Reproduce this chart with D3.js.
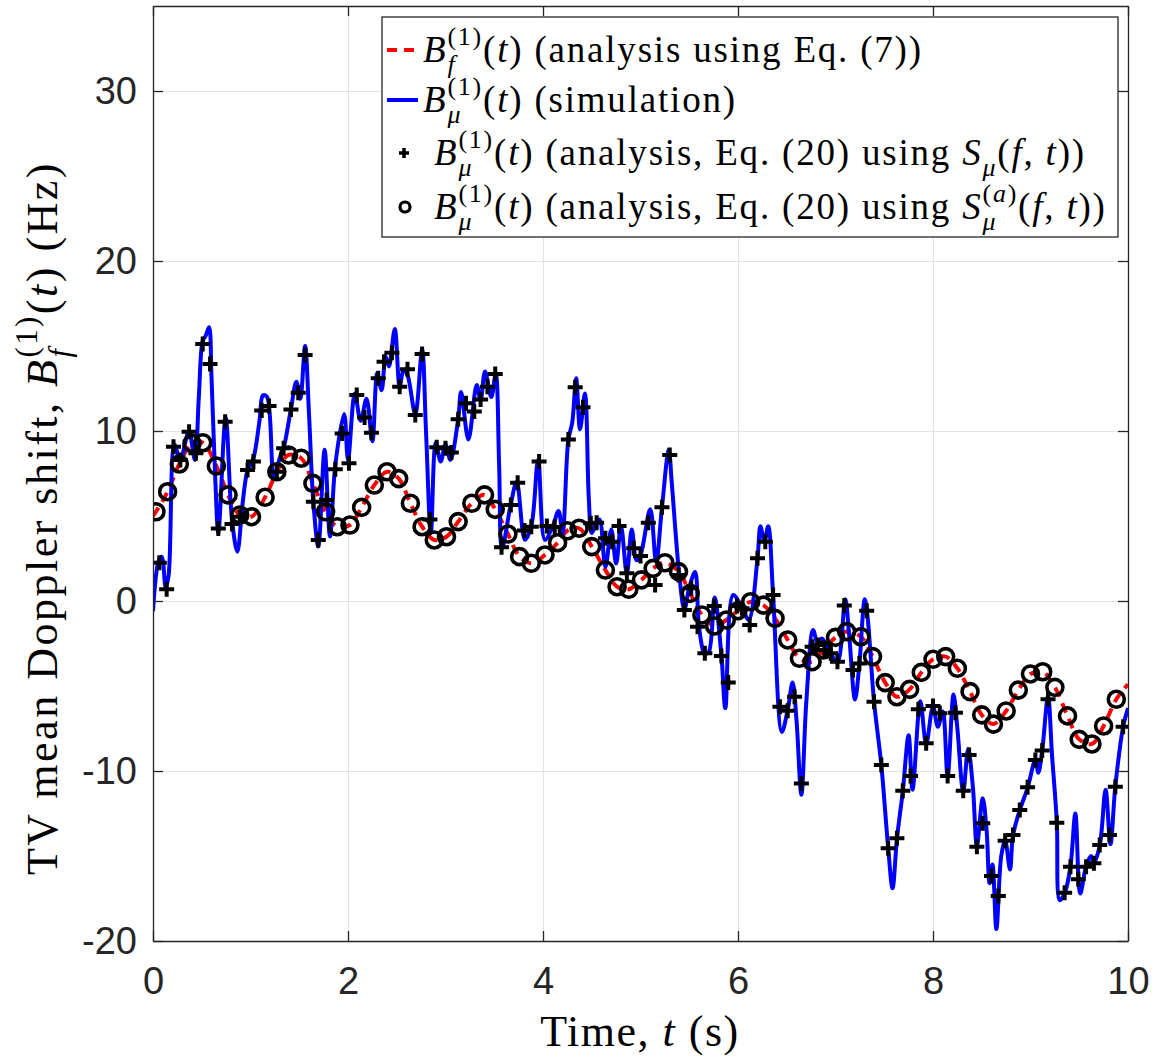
<!DOCTYPE html>
<html lang="en">
<head>
<meta charset="UTF-8"/>
<title>TV mean Doppler shift</title>
<script src="https://d3js.org/d3.v7.min.js"></script>
<style type="text/css">
  body { margin: 0; background: #fff; }
  .tick text { font-family: "Liberation Sans", Arial, sans-serif; fill: #262626; }
  .grid line { stroke: #e3e3e3; stroke-width: 1.2; }
  .grid path { display: none; }
  .math { font-family: "Liberation Serif", "Times New Roman", serif; fill: #000; white-space: pre; }
</style>
</head>
<body>
<script>

// axis ticks
var xTicks = [0, 2, 4, 6, 8, 10];
var yTicks = [-20, -10, 0, 10, 20, 30];

// simulation (blue solid)
var blueT = [0.00, 0.06, 0.09, 0.13, 0.16, 0.22, 0.28, 0.33, 0.37, 0.43, 0.47, 0.51, 0.54, 0.575, 0.60, 0.64, 0.67, 0.745, 0.81, 0.865,
  0.92, 0.97, 1.03, 1.09, 1.13, 1.17, 1.24, 1.30, 1.34, 1.415, 1.47, 1.51, 1.56, 1.60, 1.645, 1.695, 1.76, 1.815, 1.87, 1.96,
  2.00, 2.07, 2.13, 2.19, 2.25, 2.30, 2.345, 2.385, 2.42, 2.48, 2.53, 2.57, 2.61, 2.69, 2.76, 2.80, 2.85, 2.90, 2.95, 3.00,
  3.05, 3.13, 3.16, 3.235, 3.32, 3.36, 3.405, 3.47, 3.515, 3.55, 3.58, 3.67, 3.73, 3.815, 3.88, 3.95, 4.02, 4.10, 4.16, 4.20,
  4.26, 4.30, 4.34, 4.38, 4.43, 4.47, 4.50, 4.55, 4.58, 4.64, 4.70, 4.75, 4.80, 4.86, 4.91, 4.96, 5.00, 5.10, 5.16, 5.22,
  5.29, 5.32, 5.40, 5.45, 5.50, 5.56, 5.60, 5.66, 5.70, 5.76, 5.83, 5.87, 5.95, 6.04, 6.11, 6.20, 6.23, 6.27, 6.31, 6.36,
  6.45, 6.51, 6.56, 6.60, 6.65, 6.70, 6.77, 6.82, 6.86, 6.95, 7.02, 7.10, 7.14, 7.20, 7.245, 7.30, 7.33, 7.395, 7.47, 7.54,
  7.585, 7.63, 7.69, 7.75, 7.79, 7.87, 7.93, 8.00, 8.05, 8.10, 8.15, 8.21, 8.25, 8.31, 8.36, 8.41, 8.45, 8.51, 8.55, 8.58,
  8.61, 8.65, 8.70, 8.74, 8.79, 8.82, 8.89, 8.97, 9.05, 9.08, 9.12, 9.18, 9.22, 9.27, 9.30, 9.35, 9.41, 9.46, 9.51, 9.57,
  9.62, 9.65, 9.71, 9.77, 9.82, 9.87, 9.95, 10.0];
var blueV = [-0.6, 2.4, 2.6, 0.8, 1.5, 9.2, 8.2, 9.3, 10.0, 8.3, 12.0, 15.3, 15.6, 16.1, 13.2, 7.0, 4.0, 10.8, 4.8, 2.9,
  5.8, 7.7, 8.4, 10.5, 12.1, 12.0, 7.3, 8.4, 9.0, 11.3, 12.9, 11.9, 15.0, 11.0, 5.8, 3.2, 8.9, 3.8, 8.0, 11.0,
  8.3, 12.2, 10.6, 11.9, 9.4, 13.4, 12.4, 14.4, 13.8, 16.0, 12.6, 13.6, 13.3, 11.0, 14.8, 10.0, 4.0, 9.3, 8.2, 9.2,
  8.3, 10.7, 12.3, 9.5, 12.7, 11.8, 13.5, 12.0, 13.4, 8.0, 3.1, 5.7, 7.0, 3.6, 4.4, 8.3, 3.6, 4.4, 5.3, 3.9,
  9.5, 10.5, 13.1, 10.1, 12.2, 6.0, 4.0, 4.6, 4.8, 2.0, 4.2, 2.2, 4.4, 1.6, 4.2, 2.4, 2.7, 5.4, 2.3, 5.5,
  8.9, 7.0, 1.4, -0.5, 0.8, 1.7, -1.5, -3.1, -3.0, 0.2, -3.2, -6.3, 0.35, -0.4, -1.1, 2.5, 4.4, 3.5, 4.4, 0.35,
  -7.7, -6.4, -4.8, -7.0, -11.4, -6.0, -1.7, -2.6, -2.2, -3.1, -3.6, 0.1, -2.0, -5.8, -3.7, 0.1, -1.0, -5.9, -9.65, -14.5,
  -16.9, -14.0, -11.2, -7.9, -11.1, -5.9, -8.4, -6.2, -7.4, -6.5, -10.3, -5.5, -7.5, -11.2, -8.7, -11.0, -14.4, -11.6, -13.5, -16.6,
  -15.5, -19.3, -15.0, -14.1, -15.8, -13.8, -12.3, -11.0, -9.35, -10.1, -8.8, -5.6, -9.0, -13.0, -17.6, -17.2, -15.6, -12.5, -17.2, -15.6,
  -15.0, -15.4, -14.4, -11.1, -14.3, -10.9, -7.4, -6.3];

// analysis with S_mu(f,t) ("+" markers)
var plusT = [0.065, 0.14, 0.21, 0.28, 0.37, 0.44, 0.51, 0.585, 0.67, 0.74, 0.81, 0.89, 0.97, 1.03, 1.115, 1.19, 1.27, 1.34, 1.415, 1.49,
  1.56, 1.645, 1.695, 1.78, 1.87, 1.94, 2.01, 2.09, 2.17, 2.24, 2.31, 2.37, 2.45, 2.53, 2.61, 2.69, 2.76, 2.84, 2.91, 3.00,
  3.06, 3.13, 3.21, 3.295, 3.36, 3.43, 3.51, 3.575, 3.67, 3.74, 3.81, 3.88, 3.96, 4.04, 4.12, 4.26, 4.33, 4.41, 4.49, 4.55,
  4.64, 4.71, 4.78, 4.86, 4.93, 5.00, 5.08, 5.15, 5.22, 5.30, 5.39, 5.45, 5.52, 5.585, 5.66, 5.757, 5.83, 5.90, 5.99, 6.04,
  6.12, 6.20, 6.28, 6.36, 6.43, 6.51, 6.58, 6.65, 6.76, 6.82, 6.885, 6.95, 7.02, 7.09, 7.18, 7.245, 7.32, 7.395, 7.47, 7.54,
  7.63, 7.69, 7.77, 7.85, 7.93, 8.00, 8.07, 8.15, 8.23, 8.31, 8.37, 8.45, 8.51, 8.60, 8.67, 8.74, 8.82, 8.89, 8.97, 9.05,
  9.12, 9.18, 9.27, 9.35, 9.41, 9.49, 9.57, 9.65, 9.71, 9.81, 9.87, 9.95];
var plusV = [2.25, 0.69, 9.08, 8.3, 9.96, 8.69, 15.12, 13.94, 4.27, 10.55, 4.53, 4.96, 7.7, 8.2, 11.2, 11.47, 7.6, 8.98, 11.27, 12.25,
  14.47, 5.84, 3.59, 5.94, 7.75, 9.86, 8.1, 12.12, 10.8, 9.9, 13.1, 14.08, 14.6, 12.6, 13.63, 10.94, 14.53, 4.8, 9.04, 8.98,
  8.73, 10.69, 11.63, 11.14, 11.86, 12.6, 13.35, 3.16, 5.65, 6.96, 4.14, 4.37, 8.2, 4.41, 4.35, 9.5, 12.57, 11.39, 4.57, 4.6,
  3.69, 3.49, 4.41, 1.63, 3.1, 2.65, 4.61, 0.94, 5.51, 8.59, 1.53, -0.53, 0.75, -1.51, -3.08, -0.29, -3.24, -4.8, -0.29, -0.43,
  -1.41, 2.51, 3.49, 0.35, -6.22, -6.45, -5.63, -10.73, -2.69, -2.59, -2.88, -3.08, -3.57, -0.26, -4.06, -3.67, -0.57, -5.92, -9.65, -14.55,
  -13.96, -11.16, -10.29, -6.37, -8.37, -6.18, -6.61, -10.29, -6.57, -11.16, -9.06, -14.45, -13.08, -16.18, -17.35, -14.1, -13.76, -12.29, -10.96, -9.35,
  -8.8, -5.78, -13.04, -17.16, -15.63, -16.37, -15.63, -15.43, -14.35, -13.76, -10.92, -7.39];

// analysis with S_mu^(a)(f,t) ("o" markers)
var circT = [0.03, 0.15, 0.27, 0.40, 0.51, 0.65, 0.77, 0.89, 1.01, 1.15, 1.27, 1.39, 1.52, 1.64, 1.77, 1.89, 2.02, 2.14, 2.27, 2.40,
  2.52, 2.64, 2.76, 2.885, 3.01, 3.13, 3.27, 3.40, 3.51, 3.64, 3.76, 3.88, 4.02, 4.15, 4.25, 4.37, 4.50, 4.64, 4.76, 4.88,
  5.01, 5.13, 5.25, 5.39, 5.51, 5.63, 5.76, 5.88, 6.00, 6.13, 6.26, 6.38, 6.51, 6.63, 6.76, 6.875, 7.00, 7.115, 7.26, 7.38,
  7.51, 7.63, 7.76, 7.88, 8.00, 8.13, 8.25, 8.38, 8.50, 8.62, 8.75, 8.875, 9.00, 9.125, 9.25, 9.38, 9.50, 9.63, 9.75, 9.88];
var circV = [5.25, 6.43, 8.06, 9.27, 9.31, 7.94, 6.24, 5.06, 4.96, 6.1, 7.6, 8.59, 8.4, 6.92, 5.25, 4.37, 4.47, 5.51, 6.82, 7.6,
  7.2, 5.75, 4.37, 3.59, 3.78, 4.67, 5.75, 6.24, 5.39, 3.94, 2.61, 2.22, 2.71, 3.43, 4.13, 4.28, 3.2, 1.82, 0.84, 0.69,
  1.24, 1.92, 2.25, 1.73, 0.45, -0.82, -1.47, -1.12, -0.57, -0.04, -0.24, -1.02, -2.29, -3.37, -3.57, -2.88, -2.14, -1.8, -2.1, -3.27,
  -4.8, -5.63, -5.2, -4.2, -3.43, -3.27, -3.96, -5.33, -6.7, -7.24, -6.47, -5.24, -4.29, -4.16, -5.08, -6.76, -8.14, -8.41, -7.35, -5.78];

// analysis using Eq. (7) (red dashed), sampled by the circles plus the two ends
var redT = [0].concat(circT, [10]);
var redV = [5.0].concat(circV, [-4.9]);

var W = 1155, H = 1064;
var pLeft = 153, pRight = 1128, pTop = 6, pBottom = 941;

var x = d3.scaleLinear().domain([0, 10]).range([pLeft, pRight]);
var y = d3.scaleLinear().domain([-20, 35]).range([pBottom, pTop]);

var svg = d3.select("body").append("svg")
    .attr("width", W)
    .attr("height", H)
    .style("font-family", "Liberation Sans, Arial, sans-serif");

svg.append("rect").attr("width", W).attr("height", H).attr("fill", "#fff");

// grid
svg.append("g")
    .attr("class", "grid")
    .attr("transform", "translate(0," + pBottom + ")")
    .call(d3.axisBottom(x).tickValues(xTicks).tickSize(-(pBottom - pTop)).tickFormat(""));
svg.append("g")
    .attr("class", "grid")
    .attr("transform", "translate(" + pLeft + ",0)")
    .call(d3.axisLeft(y).tickValues(yTicks).tickSize(-(pRight - pLeft)).tickFormat(""));

// curves
svg.append("clipPath").attr("id", "plot")
  .append("rect").attr("x", pLeft).attr("y", pTop).attr("width", pRight - pLeft).attr("height", pBottom - pTop);

var plot = svg.append("g").attr("clip-path", "url(#plot)");

var line = d3.line()
    .x(function(d) { return x(d[0]); })
    .y(function(d) { return y(d[1]); })
    .curve(d3.curveCatmullRom.alpha(0.5));

plot.append("path")
    .datum(d3.zip(redT, redV))
    .attr("fill", "none")
    .attr("stroke", "#ff0000")
    .attr("stroke-width", 4)
    .attr("stroke-dasharray", "10,7")
    .attr("d", line);

plot.append("path")
    .datum(d3.zip(blueT, blueV))
    .attr("fill", "none")
    .attr("stroke", "#0000ff")
    .attr("stroke-width", 4)
    .attr("stroke-linejoin", "round")
    .attr("d", line);

var plusPath = "M-7.5,0H7.5M0,-7.5V7.5";

plot.selectAll(".plus")
    .data(d3.zip(plusT, plusV))
  .enter().append("path")
    .attr("class", "plus")
    .attr("transform", function(d) { return "translate(" + x(d[0]) + "," + y(d[1]) + ")"; })
    .attr("d", plusPath)
    .attr("fill", "none")
    .attr("stroke", "#000")
    .attr("stroke-width", 4);

plot.selectAll(".circ")
    .data(d3.zip(circT, circV))
  .enter().append("circle")
    .attr("class", "circ")
    .attr("cx", function(d) { return x(d[0]); })
    .attr("cy", function(d) { return y(d[1]); })
    .attr("r", 8)
    .attr("fill", "none")
    .attr("stroke", "#000")
    .attr("stroke-width", 3.6);

// axes: ticks inside on all four sides
function styleAxis(g) {
  g.select(".domain").attr("stroke", "#262626").attr("stroke-width", 1.3);
  g.selectAll(".tick line").attr("stroke", "#262626").attr("stroke-width", 1.3);
}

svg.append("g")
    .attr("transform", "translate(0," + pBottom + ")")
    .call(d3.axisBottom(x).tickValues(xTicks).tickSize(-10).tickSizeOuter(0).tickPadding(26)
      .tickFormat(function(d) { return String(d); }))
    .call(styleAxis)
    .selectAll("text").attr("font-size", 38).attr("font-family", "Liberation Sans, Arial, sans-serif");

svg.append("g")
    .attr("transform", "translate(" + pLeft + ",0)")
    .call(d3.axisLeft(y).tickValues(yTicks).tickSize(-10).tickSizeOuter(0).tickPadding(16)
      .tickFormat(function(d) { return String(d); }))
    .call(styleAxis)
    .selectAll("text").attr("font-size", 38).attr("font-family", "Liberation Sans, Arial, sans-serif");

svg.append("g")
    .attr("transform", "translate(0," + pTop + ")")
    .call(d3.axisTop(x).tickValues(xTicks).tickSize(-10).tickSizeOuter(0).tickFormat(""))
    .call(styleAxis);

svg.append("g")
    .attr("transform", "translate(" + pRight + ",0)")
    .call(d3.axisRight(y).tickValues(yTicks).tickSize(-10).tickSizeOuter(0).tickFormat(""))
    .call(styleAxis);

// math-like text: parts placed one after another, "stack" puts a part under the previous one
function mathText(g, x0, y0, parts, fs, ls) {
  var cx = x0, prevStart = x0;
  parts.forEach(function(p) {
    var size = fs * (p.s || 1);
    var sx = p.stack ? prevStart : cx;
    var t = g.append("text")
        .attr("class", "math")
        .attr("x", sx)
        .attr("y", y0 + (p.dy || 0) * fs)
        .attr("font-size", size)
        .attr("letter-spacing", ls || 0);
    var segs = Array.isArray(p.t) ? p.t : [[p.t, p.i]];
    segs.forEach(function(s) {
      t.append("tspan").attr("font-style", s[1] ? "italic" : "normal").text(s[0]);
    });
    var w = t.node().getComputedTextLength();
    if (p.stack) { cx = Math.max(cx, sx + w); }
    else { prevStart = sx; cx = sx + w; }
  });
  return cx - x0;
}

function bSym(sub) {
  return [
    {t: "B", i: 1},
    {t: "(1)", s: 0.7, dy: -0.45},
    {t: sub, i: 1, s: 0.7, dy: 0.3, stack: 1},
    {t: [["(", 0], ["t", 1], [")", 0]]}
  ];
}

// legend
var lg = svg.append("g");
lg.append("rect")
    .attr("x", 382).attr("y", 17).attr("width", 736).attr("height", 220)
    .attr("fill", "#fff").attr("stroke", "#262626").attr("stroke-width", 1.3);

var legFs = 37;
var rows = [
  {y: 50, parts: bSym("f").concat([{t: " (analysis using Eq. (7))"}])},
  {y: 100, parts: bSym("\u03bc").concat([{t: " (simulation)"}])},
  {y: 153, parts: bSym("\u03bc").concat([{t: " (analysis, Eq. (20) using "}, {t: "S", i: 1},
      {t: "\u03bc", i: 1, s: 0.7, dy: 0.3}, {t: [["(", 0], ["f", 1], [", ", 0], ["t", 1], ["))", 0]]}])},
  {y: 207, parts: bSym("\u03bc").concat([{t: " (analysis, Eq. (20) using "}, {t: "S", i: 1},
      {t: [["(", 0], ["a", 1], [")", 0]], s: 0.7, dy: -0.45}, {t: "\u03bc", i: 1, s: 0.7, dy: 0.3, stack: 1},
      {t: [["(", 0], ["f", 1], [", ", 0], ["t", 1], ["))", 0]]}])}
];

lg.append("line").attr("x1", 387).attr("x2", 418).attr("y1", 50).attr("y2", 50)
    .attr("stroke", "#ff0000").attr("stroke-width", 4).attr("stroke-dasharray", "10,7");
lg.append("line").attr("x1", 387).attr("x2", 418).attr("y1", 100).attr("y2", 100)
    .attr("stroke", "#0000ff").attr("stroke-width", 4);
lg.append("path").attr("transform", "translate(404,153)").attr("d", "M-5,0H5M0,-5V5")
    .attr("stroke", "#000").attr("stroke-width", 3.5);
lg.append("circle").attr("cx", 405).attr("cy", 207).attr("r", 5)
    .attr("fill", "none").attr("stroke", "#000").attr("stroke-width", 3.2);

rows.forEach(function(r, i) {
  mathText(lg, i < 2 ? 423 : 434, r.y + 12, r.parts, legFs, 1.8);
});

// x label
var xl = svg.append("g");
var xw = mathText(xl, 0, 0, [{t: "Time, "}, {t: "t", i: 1}, {t: " (s)"}], 44, 1.5);
xl.attr("transform", "translate(" + (640 - xw / 2) + ",1046)");

// y label
var yl = svg.append("g");
var yw = mathText(yl, 0, 0, [{t: "TV mean Doppler shift, "}].concat(bSym("f")).concat([{t: " (Hz)"}]), 44, 2.5);
yl.attr("transform", "translate(57," + (518 + yw / 2) + ") rotate(-90)");

</script>
</body>
</html>
